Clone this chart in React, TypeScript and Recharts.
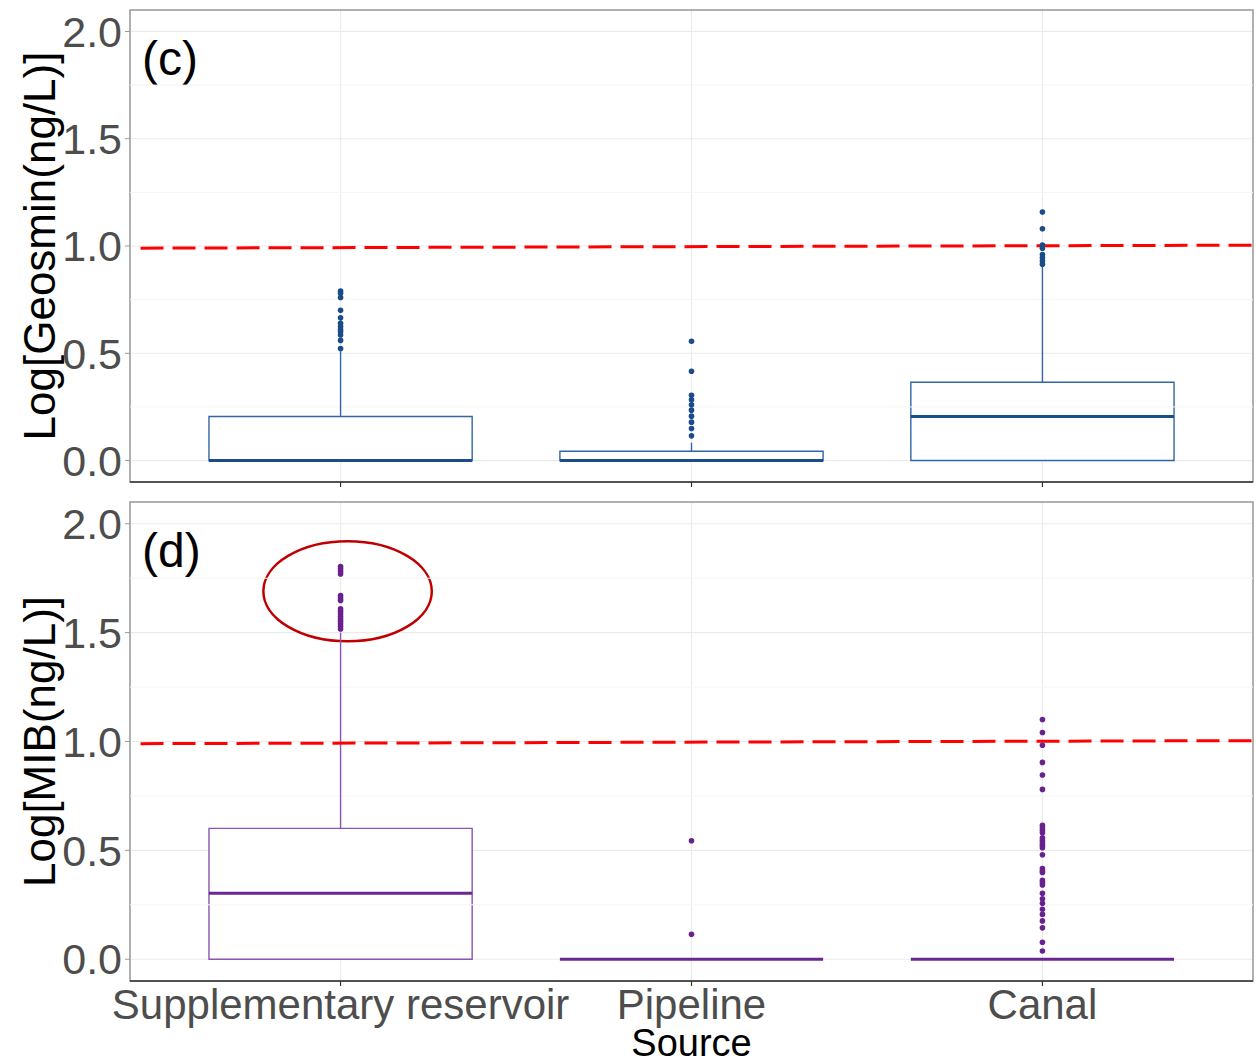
import React from "react";
import {
  CartesianGrid,
  ComposedChart,
  ReferenceArea,
  ReferenceLine,
  Scatter,
  XAxis,
  YAxis,
} from "recharts";

const categories = ["Supplementary reservoir", "Pipeline", "Canal"];
const yTicks = [0, 0.5, 1, 1.5, 2];
const minorTicks = [0.25, 0.75, 1.25, 1.75];

// Geosmin (panel c)
const geosminQ1 = [0, 0, 0];
const geosminMedian = [0, 0, 0.205];
const geosminQ3 = [0.205, 0.043, 0.365];
const geosminWhiskerHigh = [0.51, 0.083, 0.906];
const geosminOutliersReservoir = [0.79, 0.78, 0.76, 0.7, 0.665, 0.64, 0.625, 0.61, 0.6, 0.585, 0.56, 0.522];
const geosminOutliersPipeline = [0.556, 0.416, 0.304, 0.283, 0.26, 0.235, 0.207, 0.179, 0.149, 0.115];
const geosminOutliersCanal = [1.158, 1.08, 1.005, 0.99, 0.96, 0.945, 0.93, 0.915];

// MIB (panel d)
const mibQ1 = [0, 0, 0];
const mibMedian = [0.303, 0, 0];
const mibQ3 = [0.601, 0, 0];
const mibWhiskerHigh = [1.5, 0, 0];
const mibOutliersReservoir = [1.804, 1.792, 1.781, 1.769, 1.67, 1.659, 1.648, 1.609, 1.598, 1.587, 1.575, 1.563, 1.552, 1.541, 1.529, 1.517];
const mibOutliersPipeline = [0.544, 0.115];
const mibOutliersCanal = [
  1.101, 1.041, 0.983, 0.904, 0.846, 0.78, 0.615, 0.604, 0.592, 0.581, 0.558, 0.547, 0.535, 0.524, 0.512, 0.48,
  0.416, 0.405, 0.398, 0.362, 0.352, 0.341, 0.303, 0.278, 0.257, 0.229, 0.206, 0.176, 0.144, 0.078, 0.038,
];

// dashed threshold line (slightly tilted in the original)
const thresholdX = [0.43, 3.6];
const thresholdY = [0.99, 1.004];

// highlight ellipse around the reservoir MIB outliers
const ellipseX = [0.78, 1.26];
const ellipseY = [1.46, 1.92];

const FONT = "'Liberation Sans', Arial, sans-serif";
const X_DOMAIN = [0.4, 3.6];
const Y_DOMAIN = [-0.1, 2.1];
const BOX_HALF = 0.375;

const toPoints = (lists: number[][]) =>
  lists.flatMap((vals, i) => vals.map((y) => ({ x: i + 1, y })));

interface PanelProps {
  tag: string;
  yTitle: string;
  q1: number[];
  median: number[];
  q3: number[];
  whiskerHigh: number[];
  outliers: number[][];
  boxColor: string;
  medianColor: string;
  dotColor: string;
  height: number;
  xAxisHeight: number;
  showXLabels: boolean;
  showEllipse?: boolean;
}

function Panel(p: PanelProps) {
  const points = toPoints(p.outliers);
  return (
    <ComposedChart
      width={1256}
      height={p.height}
      margin={{ top: 10, right: 3, left: 0, bottom: 0 }}
    >
      <CartesianGrid stroke="#ebebeb" strokeWidth={1.2} />
      {minorTicks.map((t) => (
        <ReferenceLine key={t} y={t} stroke="#f4f4f4" strokeWidth={1} />
      ))}
      <XAxis
        type="number"
        dataKey="x"
        domain={X_DOMAIN}
        ticks={[1, 2, 3]}
        allowDataOverflow
        height={p.xAxisHeight}
        tickSize={5}
        tickMargin={3}
        axisLine={{ stroke: "#333333", strokeWidth: 1.5 }}
        tickLine={{ stroke: "#333333", strokeWidth: 1.2 }}
        tick={{ fontSize: 42, fill: "#4d4d4d", fontFamily: FONT }}
        tickFormatter={(v) => (p.showXLabels ? categories[v - 1] : "")}
        label={
          p.showXLabels
            ? {
                content: ({ viewBox }: any) => (
                  <text
                    x={viewBox.x + viewBox.width / 2}
                    y={viewBox.y + 75}
                    textAnchor="middle"
                    fontSize={38}
                    fontFamily={FONT}
                    fill="#000"
                  >
                    Source
                  </text>
                ),
              }
            : undefined
        }
      />
      <YAxis
        type="number"
        dataKey="y"
        domain={Y_DOMAIN}
        ticks={yTicks}
        allowDataOverflow
        width={130}
        tickSize={5}
        tickMargin={3}
        axisLine={false}
        tickLine={{ stroke: "#999999" }}
        tick={{ fontSize: 43, fill: "#4d4d4d", fontFamily: FONT }}
        tickFormatter={(v) => Number(v).toFixed(1)}
        label={{
          content: ({ viewBox }: any) => {
            const cx = 55;
            const cy = viewBox.y + viewBox.height / 2;
            return (
              <text
                x={cx}
                y={cy}
                transform={`rotate(-90, ${cx}, ${cy})`}
                textAnchor="middle"
                fontSize={44}
                fontFamily={FONT}
                fill="#000"
              >
                {p.yTitle}
              </text>
            );
          },
        }}
      />

      {categories.map((c, i) => (
        <ReferenceLine
          key={`w-${c}`}
          segment={[
            { x: i + 1, y: p.q3[i] },
            { x: i + 1, y: p.whiskerHigh[i] },
          ]}
          stroke={p.boxColor}
          strokeWidth={1.4}
        />
      ))}
      {categories.map((c, i) => (
        <ReferenceArea
          key={`b-${c}`}
          x1={i + 1 - BOX_HALF}
          x2={i + 1 + BOX_HALF}
          y1={p.q1[i]}
          y2={p.q3[i]}
          fill="#ffffff"
          fillOpacity={1}
          stroke={p.boxColor}
          strokeWidth={1.4}
        />
      ))}
      {categories.map((c, i) => (
        <ReferenceLine
          key={`m-${c}`}
          segment={[
            { x: i + 1 - BOX_HALF, y: p.median[i] },
            { x: i + 1 + BOX_HALF, y: p.median[i] },
          ]}
          stroke={p.medianColor}
          strokeWidth={3}
        />
      ))}

      <ReferenceLine
        segment={[
          { x: thresholdX[0], y: thresholdY[0] },
          { x: thresholdX[1], y: thresholdY[1] },
        ]}
        stroke="#ff0000"
        strokeWidth={3}
        strokeDasharray="23 9"
      />

      <Scatter
        data={points}
        isAnimationActive={false}
        shape={(s: any) => <circle cx={s.cx} cy={s.cy} r={2.8} fill={p.dotColor} />}
      />

      {p.showEllipse && (
        <ReferenceArea
          x1={ellipseX[0]}
          x2={ellipseX[1]}
          y1={ellipseY[0]}
          y2={ellipseY[1]}
          shape={(s: any) => (
            <ellipse
              cx={s.x + s.width / 2}
              cy={s.y + s.height / 2}
              rx={s.width / 2}
              ry={s.height / 2}
              fill="none"
              stroke="#c00000"
              strokeWidth={2.5}
            />
          )}
        />
      )}

      <ReferenceArea
        x1={X_DOMAIN[0]}
        x2={X_DOMAIN[1]}
        y1={Y_DOMAIN[0]}
        y2={Y_DOMAIN[1]}
        shape={(s: any) => (
          <g>
            <rect x={s.x} y={s.y} width={s.width} height={s.height} fill="none" stroke="#9a9a9a" strokeWidth={1.5} />
            <text x={s.x + 12} y={s.y + 65} fontSize={48} fontFamily={FONT} fill="#000">
              {p.tag}
            </text>
          </g>
        )}
      />
    </ComposedChart>
  );
}

export default function App() {
  return (
    <div style={{ position: "absolute", left: 0, top: 0, width: 1256, height: 1064, background: "#fff" }}>
      <Panel
        tag="(c)"
        yTitle="Log[Geosmin(ng/L)]"
        q1={geosminQ1}
        median={geosminMedian}
        q3={geosminQ3}
        whiskerHigh={geosminWhiskerHigh}
        outliers={[geosminOutliersReservoir, geosminOutliersPipeline, geosminOutliersCanal]}
        boxColor="#3266a6"
        medianColor="#1b4d8c"
        dotColor="#1a4c8a"
        height={492}
        xAxisHeight={10}
        showXLabels={false}
      />
      <Panel
        tag="(d)"
        yTitle="Log[MIB(ng/L)]"
        q1={mibQ1}
        median={mibMedian}
        q3={mibQ3}
        whiskerHigh={mibWhiskerHigh}
        outliers={[mibOutliersReservoir, mibOutliersPipeline, mibOutliersCanal]}
        boxColor="#8a55b3"
        medianColor="#6b2693"
        dotColor="#6a2190"
        height={572}
        xAxisHeight={83}
        showXLabels
        showEllipse
      />
    </div>
  );
}
